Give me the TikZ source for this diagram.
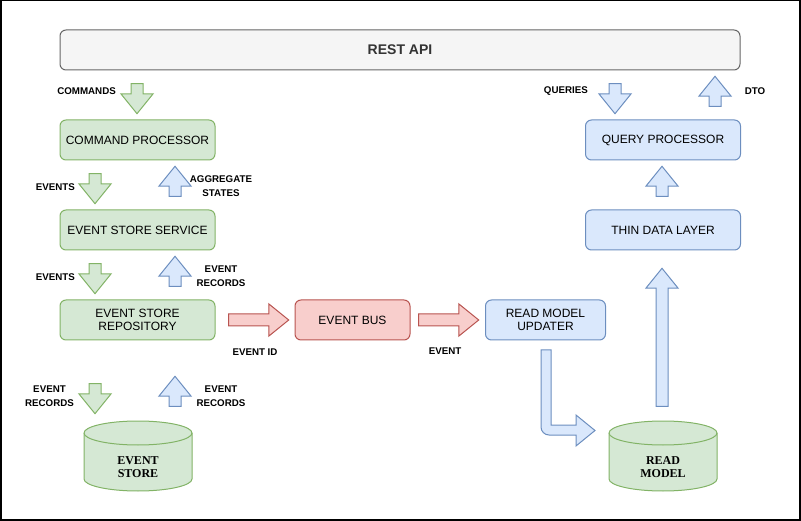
\documentclass[tikz,border=0pt]{standalone}
\usepackage{fontspec}
\setmainfont{Liberation Sans}
\newfontfamily\dbfont{Liberation Serif}
\usetikzlibrary{shapes.arrows}
\definecolor{grfill}{HTML}{D5E8D4}
\definecolor{grline}{HTML}{82B366}
\definecolor{blfill}{HTML}{DAE8FC}
\definecolor{blline}{HTML}{6C8EBF}
\definecolor{rdfill}{HTML}{F8CECC}
\definecolor{rdline}{HTML}{B85450}
\definecolor{gyfill}{HTML}{F5F5F5}
\definecolor{gyline}{HTML}{666666}
\definecolor{gytext}{HTML}{333333}
\begin{document}
\begin{tikzpicture}[x=1pt,y=-1pt,
  box/.style={rectangle, rounded corners=6pt, minimum width=155pt, minimum height=40pt, align=center, inner sep=2pt, line width=1pt, font=\fontsize{12}{13.5}\selectfont},
  greenbox/.style={box, fill=grfill, draw=grline},
  bluebox/.style={box, fill=blfill, draw=blline},
  redbox/.style={box, fill=rdfill, draw=rdline},
  blockarr/.style={single arrow, minimum height=30pt, minimum width=1pt, inner xsep=0pt, inner ysep=5.5pt, single arrow head extend=10pt, single arrow tip angle=78, line width=1pt},
  greendown/.style={blockarr, rotate=-90, fill=grfill, draw=grline},
  blueup/.style={blockarr, rotate=90, fill=blfill, draw=blline},
  bluedown/.style={blockarr, rotate=-90, fill=blfill, draw=blline},
  redright/.style={blockarr, minimum height=60pt, fill=rdfill, draw=rdline},
  lbl/.style={font=\fontsize{9.75}{14}\selectfont\bfseries, align=center, inner sep=0pt},
  dbtext/.style={font=\dbfont\fontsize{12}{13.5}\selectfont\bfseries, align=center, inner sep=0pt},
  db/.style={fill=grfill, draw=grline, line width=1pt}]

  \useasboundingbox (0,0) rectangle (801,521);
  \draw[line width=1.5pt] (0.75,0.75) rectangle (800,520);

  % api on top
  \node[box, minimum width=680pt, fill=gyfill, draw=gyline, text=gytext, font=\fontsize{14}{16}\selectfont\bfseries] (restapi) at (400,50) {REST API};

  % command side
  \node[greenbox] (cmdproc) at (137.5,140) {COMMAND PROCESSOR};
  \node[greenbox] (evservice) at (137.5,230) {EVENT STORE SERVICE};
  \node[greenbox] (evrepo) at (137.5,320) {EVENT STORE\\REPOSITORY};

  \node[greendown] (cmdarr) at (137,95) {};
  \node[lbl, anchor=east] (cmdlbl) at (116,91) {COMMANDS};
  \node[greendown] (evarrA) at (95,185) {};
  \node[lbl, anchor=east] (evlblA) at (75,187) {EVENTS};
  \node[blueup] (aggarr) at (175,185) {};
  \node[lbl] (agglbl) at (221,186) {AGGREGATE\\STATES};
  \node[greendown] (evarrB) at (95,275) {};
  \node[lbl, anchor=east] (evlblB) at (75,277) {EVENTS};
  \node[blueup] (recarrA) at (175,275) {};
  \node[lbl] (reclblA) at (221,276) {EVENT\\RECORDS};
  \node[greendown] (recarrB) at (95,395) {};
  \node[lbl] (reclblB) at (49.5,396.5) {EVENT\\RECORDS};
  \node[blueup] (recarrC) at (175,395) {};
  \node[lbl] (reclblC) at (221,396.5) {EVENT\\RECORDS};

  % event store
  \filldraw[db] (84,433) -- (84,479) arc[start angle=180, end angle=0, x radius=54, y radius=12] -- (192,433) arc[start angle=0, end angle=-180, x radius=54, y radius=12] -- cycle;
  \draw[db] (84,433) arc[start angle=180, end angle=0, x radius=54, y radius=12];
  \node[dbtext] (evstore) at (138,467) {EVENT\\STORE};

  % bus
  \node[redright] (idarr) at (255,320) {};
  \node[lbl] (idlbl) at (255,352) {EVENT ID};
  \node[redbox, minimum width=115pt] (evbus) at (352.5,320) {EVENT BUS};
  \node[redright] (evarrC) at (445,320) {};
  \node[lbl] (evlblC) at (445,351) {EVENT};

  % query side
  \node[bluebox, minimum width=120pt] (updater) at (545.5,320) {READ MODEL\\UPDATER};
  \filldraw[fill=blfill, draw=blline, line width=1pt] (541,350) -- (551,350) -- (551,425) -- (576,425) -- (576,415) -- (595,430.5) -- (576,446) -- (576,435) [rounded corners=8pt] -- (541,435) [sharp corners] -- (541,350) -- cycle;

  \filldraw[db] (609,433) -- (609,479) arc[start angle=180, end angle=0, x radius=54, y radius=12] -- (717,433) arc[start angle=0, end angle=-180, x radius=54, y radius=12] -- cycle;
  \draw[db] (609,433) arc[start angle=180, end angle=0, x radius=54, y radius=12];
  \node[dbtext] (readmodel) at (663,467) {READ\\MODEL};

  \node[blueup, minimum height=138pt] (tallarr) at (662,341) {};
  \node[bluebox] (thinlayer) at (663,230) {THIN DATA LAYER};
  \node[blueup] (tdlarr) at (662,185) {};
  \node[bluebox] (qproc) at (663,140) {QUERY PROCESSOR};
  \node[bluedown] (qarr) at (615,95) {};
  \node[lbl, anchor=east] (qlbl) at (588,91) {QUERIES};
  \node[blueup] (dtoarr) at (715,95) {};
  \node[lbl] (dtolbl) at (755,91) {DTO};
\end{tikzpicture}
\end{document}
